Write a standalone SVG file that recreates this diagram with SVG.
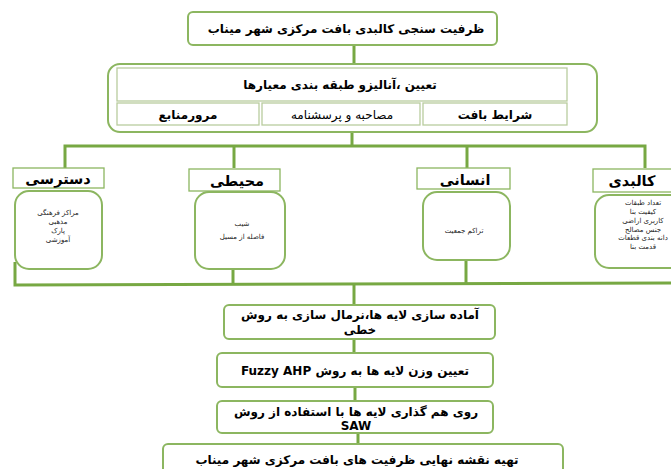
<svg xmlns="http://www.w3.org/2000/svg" width="671" height="469" viewBox="0 0 671 469">
<style>
text{font-family:"DejaVu Sans","Noto Sans",sans-serif;fill:#000;text-anchor:middle;direction:rtl;unicode-bidi:embed}
.b{font-weight:bold;font-size:12px}
.h{font-weight:bold;font-size:14.5px}
.s{font-size:7px;fill:#222}
.box{fill:#fff;stroke:#8cb660;stroke-width:2}
.cell{fill:#fff;stroke:#b9cc9e;stroke-width:1.3}
.hdr{fill:#fff;stroke:#8cb660;stroke-width:1.3}
.con{fill:none;stroke:#77a843;stroke-width:3}
</style>
<rect width="671" height="469" fill="#fff"/>
<g id="connectors">
<line class="con" x1="354" y1="45" x2="354" y2="64"/>
<line class="con" x1="352" y1="132" x2="352" y2="146"/>
<polyline class="con" points="65,168 65,146 645,146 645,168"/>
<line class="con" x1="234" y1="146" x2="234" y2="168"/>
<line class="con" x1="467" y1="146" x2="467" y2="168"/>
<polyline class="con" points="15,262 15,285 671,283"/>
<line class="con" x1="233" y1="269" x2="233" y2="285"/>
<line class="con" x1="466" y1="260" x2="466" y2="284"/>
<line class="con" x1="354" y1="284" x2="354" y2="305"/>
<line class="con" x1="354" y1="339" x2="354" y2="353"/>
<line class="con" x1="355" y1="387" x2="355" y2="401"/>
<line class="con" x1="358" y1="433" x2="358" y2="444"/>
</g>
<g id="title">
<rect class="box" x="188" y="12" width="309" height="33" rx="5"/>
<text class="b" x="346" y="33">ظرفیت سنجی کالبدی بافت مرکزی شهر میناب</text>
</g>
<g id="criteria">
<rect class="box" x="108" y="64" width="489" height="68" rx="12"/>
<rect class="cell" x="117" y="68" width="450" height="33"/>
<text class="b" x="340" y="89">تعیین ،آنالیزو طبقه بندی معیارها</text>
<rect class="cell" x="117" y="103" width="142" height="22"/>
<text class="b" x="188" y="119">مرورمنابع</text>
<rect class="cell" x="262" y="103" width="158" height="22"/>
<text class="b" x="342" y="119" style="font-weight:normal">مصاحبه و پرسشنامه</text>
<rect class="cell" x="423" y="103" width="144" height="22"/>
<text class="b" x="495" y="119">شرایط بافت</text>
</g>
<g id="access">
<rect class="hdr" x="13" y="168" width="91" height="20"/>
<text class="h" x="58" y="184">دسترسی</text>
<rect class="box" x="15" y="191" width="87" height="78" rx="14"/>
<text class="s" x="58" y="215">مراکز فرهنگی</text>
<text class="s" x="58" y="224">مذهبی</text>
<text class="s" x="58" y="233">پارک</text>
<text class="s" x="58" y="242">آموزشی</text>
</g>
<g id="environment">
<rect class="hdr" x="189" y="169" width="91" height="22"/>
<text class="h" x="237" y="186">محیطی</text>
<rect class="box" x="195" y="192" width="90" height="77" rx="14"/>
<text class="s" x="242" y="226">شیب</text>
<text class="s" x="242" y="239">فاصله از مسیل</text>
</g>
<g id="human">
<rect class="hdr" x="417" y="168" width="93" height="21"/>
<text class="h" x="465" y="185">انسانی</text>
<rect class="box" x="423" y="192" width="87" height="68" rx="14"/>
<text class="s" x="464" y="233">تراکم جمعیت</text>
</g>
<g id="physical">
<rect class="hdr" x="593" y="169" width="90" height="23"/>
<text class="h" x="632" y="186">کالبدی</text>
<rect class="box" x="595" y="195" width="90" height="73" rx="14"/>
<text class="s" x="643" y="205">تعداد طبقات</text>
<text class="s" x="643" y="214">کیفیت بنا</text>
<text class="s" x="643" y="223">کاربری اراضی</text>
<text class="s" x="643" y="232">جنس مصالح</text>
<text class="s" x="643" y="240">دانه بندی قطعات</text>
<text class="s" x="643" y="249">قدمت بنا</text>
</g>
<g id="prep">
<rect class="box" x="224" y="305" width="271" height="34" rx="5"/>
<text class="b" x="360" y="319">آماده سازی لایه ها،نرمال سازی به روش</text>
<text class="b" x="360" y="334">خطی</text>
</g>
<g id="weight">
<rect class="box" x="217" y="353" width="276" height="34" rx="5"/>
<text class="b" x="355" y="375">تعیین وزن لایه ها به روش Fuzzy AHP</text>
</g>
<g id="overlay">
<rect class="box" x="217" y="401" width="276" height="32" rx="5"/>
<text class="b" x="356" y="416">روی هم گذاری لایه ها با استفاده از روش</text>
<text class="b" x="356" y="430">SAW</text>
</g>
<g id="final">
<rect class="box" x="163" y="444" width="400" height="40" rx="5"/>
<text class="b" x="357" y="464">تهیه نقشه نهایی ظرفیت های بافت مرکزی شهر میناب</text>
</g>
</svg>
